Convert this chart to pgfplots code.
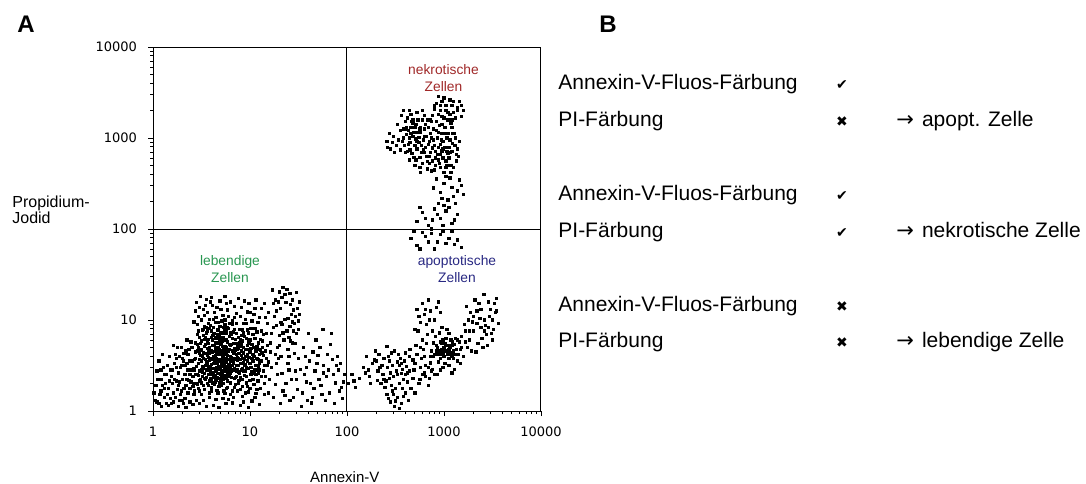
\documentclass[border=0pt]{standalone}
\usepackage{fontspec}
\setmainfont{Liberation Sans}
\newfontfamily\dejavu{DejaVu Sans}
\usepackage{pgfplots}
\pgfplotsset{compat=1.18}
\definecolor{nekred}{RGB}{160,40,40}
\definecolor{lebgreen}{RGB}{40,150,80}
\definecolor{apoblue}{RGB}{40,40,130}
\begin{document}
\begin{tikzpicture}
\useasboundingbox (0,0) rectangle (543pt,241.5pt);
\begin{axis}[
  at={(76.5pt,36pt)}, anchor=south west,
  scale only axis, width=194pt, height=182pt,
  xmin=0, xmax=400, ymin=0, ymax=400,
  xtick={0,100,200,300,400}, xticklabels={1,10,100,1000,10000},
  ytick={0,100,200,300,400}, yticklabels={1,10,100,1000,10000},
  minor xtick={30.1,47.7,60.2,69.9,77.8,84.5,90.3,95.4,130.1,147.7,160.2,169.9,177.8,184.5,190.3,195.4,230.1,247.7,260.2,269.9,277.8,284.5,290.3,295.4,330.1,347.7,360.2,369.9,377.8,384.5,390.3,395.4},
  minor ytick={30.1,47.7,60.2,69.9,77.8,84.5,90.3,95.4,130.1,147.7,160.2,169.9,177.8,184.5,190.3,195.4,230.1,247.7,260.2,269.9,277.8,284.5,290.3,295.4,330.1,347.7,360.2,369.9,377.8,384.5,390.3,395.4},
  tick pos=left, tick align=outside,
  major tick length=2.5pt, minor tick length=1.5pt,
  tick style={black, line width=0.4pt},
  axis line style={line width=0.5pt},
  ticklabel style={font=\dejavu\fontsize{6.5}{7}\selectfont},
  xticklabel style={yshift=-2pt},
  yticklabel style={xshift=-2pt},
  clip=false,
  every axis plot post/.append style={mark size=0.58pt},
]
\addplot[black, line width=0.5pt] coordinates {(200,0) (200,400)};
\addplot[black, line width=0.5pt] coordinates {(0,200) (400,200)};
% lebendige Zellen
\addplot[only marks, mark=square*, black] coordinates {
(47,52) (51,38) (53,71) (46,84) (49,61) (55,45) (48,33) (52,90) (54,57) (50,77) (46,66) (53,41) (47,88) (55,63) (51,49) (49,35) (54,81) (46,73) (52,58) (48,44) (53,93) (50,68) (47,39) (55,86)
(57,49) (61,72) (59,36) (63,85) (56,61) (64,54) (58,91) (62,42) (60,66) (57,79) (65,34) (59,58) (63,47) (56,88) (61,31) (64,75) (58,63) (62,52) (60,81) (57,40) (65,69) (59,94) (63,60) (56,45) (61,83) (64,38) (58,70) (62,92)
(67,55) (71,43) (69,78) (73,62) (66,37) (74,88) (68,49) (72,71) (70,33) (67,84) (75,58) (69,46) (73,92) (66,65) (71,52) (74,39) (68,75) (72,59) (70,86) (67,41) (75,68) (69,31) (73,50) (66,80) (71,64) (74,95) (68,57) (72,35) (70,73)
(77,61) (81,44) (79,82) (83,53) (76,70) (84,36) (78,91) (82,66) (80,48) (77,76) (85,58) (79,39) (83,87) (76,54) (81,73) (84,63) (78,42) (82,95) (80,60) (77,33) (85,79) (79,68) (83,45) (76,88)
(87,56) (91,73) (89,41) (93,64) (86,85) (94,50) (88,69) (92,35) (90,79) (87,46) (95,60) (89,90) (93,53) (86,38) (91,66) (94,82) (88,58) (92,47) (90,71)
(97,62) (101,48) (99,77) (103,55) (96,38) (104,70) (98,86) (102,43) (100,65) (107,58) (105,80) (109,49) (97,72) (106,40) (108,68) (101,91) (103,35) (110,62)
(50,55) (54,50) (58,56) (62,60) (66,48) (70,55) (74,47) (78,57) (82,50) (86,62) (90,57) (52,64) (56,69) (60,51) (64,66) (68,62) (72,53) (76,64) (80,55) (84,69) (88,63) (92,58) (51,43) (55,37) (59,44) (63,39) (67,70) (71,77) (75,44) (79,51) (83,74) (87,68) (91,45) (53,79) (57,74) (61,57) (65,45) (69,66) (73,78) (77,49) (81,59) (85,45) (89,75) (93,70) (95,44) (48,57) (56,52) (64,81) (72,44) (80,72) (88,50) (62,47) (70,62) (78,38) (86,74) (60,40) (68,83) (76,47) (84,57) (74,71)
(43,45) (46,29) (49,74) (52,47) (55,92) (58,33) (61,65) (64,44) (67,89) (70,40) (73,67) (76,36) (79,73) (82,55) (85,37) (88,81) (91,61) (94,39) (97,55) (100,78) (103,62) (106,50) (109,75) (112,88)
(44,58) (47,70) (50,31) (53,63) (56,79) (59,48) (62,84) (65,58) (68,36) (71,86) (74,54) (77,92) (80,41) (83,64) (86,50) (89,34) (92,77) (95,68) (98,47) (101,69) (104,42) (107,87) (110,53) (113,70)
(45,49) (48,81) (51,60) (54,35) (57,66) (60,88) (63,53) (66,74) (69,56) (72,81) (75,38) (78,66) (81,84) (84,47) (87,71) (90,52) (93,44) (96,80) (99,59) (102,73) (105,46) (108,57) (111,79) (114,61)
(46,40) (49,67) (52,83) (55,54) (58,46) (61,78) (64,61) (67,46) (70,80) (73,57) (76,78) (79,45) (82,80) (85,67) (88,43) (91,83) (94,57) (97,89) (100,52) (103,84) (106,66) (109,41) (112,64) (115,50)
(48,63) (51,89) (54,73) (57,59) (60,34) (63,72) (66,53) (69,93) (72,49) (75,85) (78,50) (81,37) (84,90) (87,59) (90,37) (93,86) (96,48) (99,68) (102,58) (105,91) (108,45) (111,67) (114,84) (117,58)
(50,46) (53,36) (56,75) (59,66) (62,37) (65,80) (68,67) (71,38) (74,64) (77,43) (80,86) (83,58) (86,44) (89,63) (92,89) (95,51) (98,75) (101,40) (104,60) (107,71) (110,45) (113,77) (116,66) (119,54)
(52,28) (56,30) (60,26) (64,32) (68,27) (72,30) (76,25) (80,31) (84,26) (88,33) (92,27) (96,31) (100,34) (104,29) (108,33) (112,38) (48,22) (58,20) (66,23) (74,19) (82,22) (90,24) (98,21) (106,19)
(42,98) (47,104) (52,112) (45,119) (58,101) (63,108) (55,123) (67,97) (72,105) (61,116) (77,111) (82,99) (69,121) (86,107) (91,114) (74,126) (95,101) (99,118) (88,124) (104,106) (108,97) (112,113) (50,100) (57,96) (65,103) (79,96) (93,96) (102,99) (44,110) (53,105) (71,99) (84,103) (97,109) (116,103) (60,125) (80,120) (106,122) (118,96) (49,126) (64,97)
(46,95) (54,116) (62,101) (70,112) (78,104) (86,96) (94,121) (100,108) (110,103) (115,118) (56,108) (66,114) (76,118) (90,104) (105,113) (48,114) (84,115) (96,96) (74,100) (59,120)
(121,75) (124,92) (127,110) (130,83) (133,125) (136,101) (139,68) (142,117) (145,88) (148,130) (151,106) (123,133) (126,62) (129,120) (132,97) (135,78) (138,134) (141,93) (144,122) (147,74) (150,99) (125,104) (131,113) (137,119) (143,106) (149,113) (128,70) (134,136) (140,81) (146,96)
(119,108) (122,85) (126,122) (130,72) (133,95) (136,128) (139,102) (142,77) (145,111) (148,85) (151,120) (127,94) (134,86) (141,129) (147,104) (124,118) (138,88) (144,98) (130,131) (150,90)
(112,55) (115,30) (118,72) (114,44) (117,85) (119,20) (113,64) (116,38) (111,25) (118,50)
(122,48) (126,29) (129,58) (133,41) (136,17) (139,52) (143,35) (146,63) (149,24) (152,46) (155,70) (158,32) (161,55) (164,15) (167,44) (170,61) (173,28) (176,50) (179,38) (182,20) (185,57) (188,31) (191,45) (194,26) (197,40) (160,85) (168,78) (175,90) (183,73) (190,60) (124,15) (131,8) (141,12) (153,5) (163,9) (178,12) (187,8) (195,14) (157,60) (171,35) (147,44) (137,30) (128,40) (154,20) (166,25) (181,45) (193,52) (140,60)
(120,35) (127,52) (134,22) (140,45) (145,15) (150,58) (156,40) (162,30) (169,52) (174,18) (180,62) (186,40) (192,22) (196,32) (158,48) (172,70) (184,85) (165,65) (148,35) (132,60) (121,65) (159,12) (176,42) (189,50) (144,75)
(2,12) (5,35) (8,22) (11,48) (14,8) (17,60) (20,30) (23,15) (26,42) (29,70) (32,25) (35,52) (38,10) (41,38) (44,65) (3,28) (6,55) (9,5) (12,40) (15,18) (18,45) (21,72) (24,33) (27,12) (30,58) (33,40) (36,20) (39,76) (42,47) (4,44) (7,18) (10,62) (13,30) (16,6) (19,38) (22,52) (25,24) (28,48) (31,8) (34,66) (37,34) (40,55) (43,22) (1,20) (6,8) (12,25) (18,14) (24,58) (30,35) (36,45) (42,30) (33,14) (27,32) (21,20) (15,50) (9,35) (45,12) (40,70) (35,78) (44,40)
(20,45) (23,62) (26,28) (29,50) (32,63) (35,35) (38,55) (41,27) (44,75) (22,35) (25,70) (28,18) (31,55) (34,28) (37,68) (40,45) (43,57) (30,12) (36,62) (39,32) (42,18) (33,50) (27,60) (24,48) (38,40) (14,40) (10,28) (16,25) (8,45) (4,10) (19,8) (12,15) (26,5) (34,4) (41,7) (38,25) (29,22) (17,33) (21,10) (45,30)
(47,25) (52,12) (57,28) (62,6) (67,20) (72,14) (77,26) (82,9) (87,22) (92,16) (97,27) (102,11) (107,24) (50,18) (55,5) (60,22) (65,13) (70,28) (75,8) (80,18) (85,29) (90,6) (95,20) (100,25) (105,15) (110,7) (115,18) (48,8) (58,15) (68,4) (78,13) (88,30) (98,4) (53,24) (63,29) (73,22) (83,15) (93,10)
};
% apoptotische Zellen
\addplot[only marks, mark=square*, black] coordinates {
(201,30) (205,40) (209,26) (213,36) (207,33)
(217,48) (220,60) (223,38) (226,52) (229,66) (232,44) (235,30) (238,58) (241,71) (244,36) (247,50) (250,25) (253,62) (256,41) (259,55) (262,32) (265,68) (219,42) (224,30) (228,56) (233,62) (237,40) (242,48) (246,28) (251,44) (255,58) (258,35) (261,49) (264,60) (236,50) (243,60) (248,38) (252,54) (257,46) (260,40) (231,34) (239,26) (245,42) (249,66) (254,30)
(241,18) (245,10) (249,5) (252,15) (256,8) (260,20) (263,12) (247,22) (254,3) (258,16) (250,11) (243,14)
(266,25) (269,45) (272,62) (275,35) (278,78) (281,50) (284,28) (287,66) (290,40) (268,56) (271,72) (274,30) (277,58) (280,42) (283,84) (286,53) (289,60) (270,20) (279,68) (285,36) (276,48) (282,74) (288,46)
(270,90) (274,104) (278,118) (282,95) (286,110) (290,100) (294,120) (298,92) (272,112) (280,106) (288,88) (296,108) (276,97) (284,122) (292,114)
(290,62) (293,70) (296,58) (299,78) (302,66) (305,85) (308,60) (311,73) (314,55) (317,68) (291,82) (294,54) (297,74) (300,60) (303,90) (306,70) (309,64) (312,80) (315,62) (292,66) (298,68) (304,72) (310,58) (316,76) (295,86) (301,52) (307,78) (313,68) (299,64) (305,58) (289,75) (302,80) (308,72) (296,62)
(318,82) (321,95) (324,70) (327,108) (330,88) (333,65) (336,118) (339,80) (342,100) (345,72) (348,112) (351,90) (354,124) (320,60) (323,115) (326,78) (329,98) (332,122) (335,74) (338,92) (341,128) (344,84) (347,104) (350,78) (353,108) (356,96) (328,66) (337,102) (346,120) (340,70) (322,88) (334,110) (349,85) (343,94) (352,118) (325,100)
(281,38) (287,44) (293,40) (299,48) (305,50) (311,46) (317,52) (296,45) (308,42)
(222,45) (230,55) (238,35) (246,64) (254,50) (262,42) (270,52) (278,40) (286,60) (294,66) (302,72) (310,66) (318,70) (326,88) (334,96) (342,88) (350,100) (234,48) (244,55) (252,40) (260,64) (268,36) (276,70) (284,48) (292,72) (300,70) (306,64) (314,78) (322,76) (330,104) (338,112) (346,92) (354,110) (240,33) (256,52) (264,44) (280,60) (296,76) (304,62) (312,62) (297,66) (301,74) (305,68) (309,76) (293,62) (248,18) (257,25) (273,88) (285,100) (281,112)
};
% nekrotische Zellen
\addplot[only marks, mark=square*, black] coordinates {
(258,300) (262,285) (266,312) (270,270) (274,295) (278,320) (282,280) (286,305) (290,265) (294,290) (298,315) (302,275) (306,298) (310,268) (314,288) (260,318) (264,276) (268,302) (272,288) (276,262) (280,310) (284,293) (288,275) (292,308) (296,282) (300,262) (304,305) (308,285) (312,300) (259,292) (263,308) (267,283) (271,315) (275,279) (279,298) (283,266) (287,318) (291,285) (295,272) (299,296) (303,285) (307,270) (311,292) (265,295) (273,306) (281,290) (289,298) (297,305) (305,278) (313,275) (269,279) (277,284) (285,272) (293,300) (301,290) (309,294) (261,304) (286,284) (294,276) (278,272) (270,292) (302,268) (290,292) (282,302) (298,286)
(257,296) (261,312) (265,287) (269,306) (273,320) (277,292) (281,315) (285,296) (289,310) (293,282) (297,298) (301,312) (305,290) (309,305) (313,282) (260,284) (264,300) (268,316) (272,296) (276,306) (280,284) (284,312) (288,289) (292,318) (296,293) (300,305) (304,283) (308,312) (312,292) (263,293) (267,318) (271,299) (275,310) (279,287) (283,320) (287,300) (291,278) (295,314) (299,288) (303,300) (307,316) (311,305) (275,268) (283,274) (291,270) (299,278) (307,262) (315,280) (271,276) (287,264) (303,270) (296,268) (316,296) (258,310) (266,305) (280,302) (294,306) (306,284) (285,280) (274,301)
(288,325) (292,338) (296,330) (300,344) (304,328) (308,336) (312,322) (316,340) (320,330) (290,332) (298,324) (306,342) (314,334) (302,336) (310,328) (294,346) (318,324) (286,320) (300,322) (308,320)
(290,336) (298,340) (306,326) (314,330) (302,330) (294,326) (310,340) (318,336) (296,336) (304,320)
(252,315) (256,325) (260,310) (264,330) (268,320) (272,328) (276,312) (280,325) (255,308) (262,322) (270,312) (278,330) (266,326) (258,330)
(241,296) (245,288) (248,302) (251,292) (244,305) (249,284) (253,298) (242,290) (247,295) (255,287)
(292,255) (296,240) (300,250) (304,232) (308,246) (312,228) (316,254) (320,238) (294,228) (302,258) (310,236) (318,248) (298,234) (306,256) (314,242) (289,245) (300,226)
(272,208) (278,218) (284,204) (290,222) (296,212) (302,220) (308,206) (314,216) (275,224) (281,212) (287,200) (293,216) (299,204) (305,224) (311,210) (288,210)
(266,190) (272,182) (278,196) (284,186) (290,178) (296,194) (302,184) (308,198) (314,188) (318,180) (269,198) (281,192) (293,186) (305,190) (275,178) (299,197) (311,183) (287,195)
};
\end{axis}
\begin{scope}[x=0.5pt,y=-0.5pt,yshift=241.5pt]
\node[font=\bfseries\fontsize{12}{14}\selectfont, inner sep=0] at (26,24.5) {A};
\node[font=\bfseries\fontsize{12}{14}\selectfont, inner sep=0] at (608,24.5) {B};
\node[font=\fontsize{8}{8.2}\selectfont, align=left, anchor=west, inner sep=0] at (12,210) {Propidium-\\Jodid};
\node[font=\fontsize{7.5}{8}\selectfont, inner sep=0] at (344.8,477) {Annexin-V};
\node[font=\fontsize{6.9}{8.5}\selectfont, align=center, text=nekred, inner sep=0] at (443.5,78.5) {nekrotische\\Zellen};
\node[font=\fontsize{6.9}{8.5}\selectfont, align=center, text=lebgreen, inner sep=0] at (230,269.5) {lebendige\\Zellen};
\node[font=\fontsize{6.9}{8.5}\selectfont, align=center, text=apoblue, inner sep=0] at (457,269.5) {apoptotische\\Zellen};
\begin{scope}[every node/.style={inner sep=0, anchor=base west, font=\fontsize{10.5}{12}\selectfont}]
\node at (558,89.3) {Annexin-V-Fluos-Färbung};
\node at (558,126) {PI-Färbung};
\node at (558,200.7) {Annexin-V-Fluos-Färbung};
\node at (558,237.3) {PI-Färbung};
\node at (558,311.7) {Annexin-V-Fluos-Färbung};
\node at (558,347.7) {PI-Färbung};
\node at (896,126) {{\dejavu →}\hspace{4pt}apopt. Zelle};
\node at (896,237.3) {{\dejavu →}\hspace{4pt}nekrotische Zelle};
\node at (896,347.7) {{\dejavu →}\hspace{4pt}lebendige Zelle};
\end{scope}
\begin{scope}[every node/.style={inner sep=0, anchor=base, font=\dejavu\fontsize{7}{8}\selectfont}]
\node at (842,89.3) {✔};
\node at (842,126) {✖};
\node at (842,200.7) {✔};
\node at (842,237.3) {✔};
\node at (842,311.7) {✖};
\node at (842,347.7) {✖};
\end{scope}
\end{scope}
\end{tikzpicture}
\end{document}
